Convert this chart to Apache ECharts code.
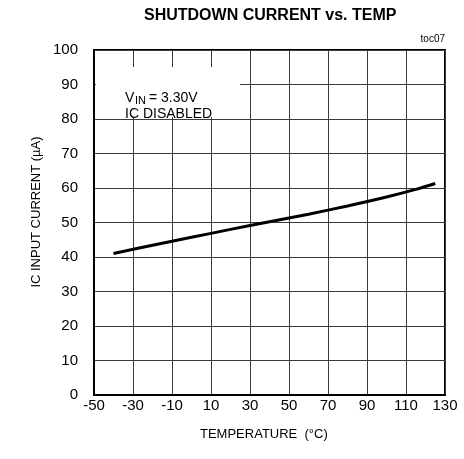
<!DOCTYPE html>
<html>
<head>
<meta charset="utf-8">
<script src="https://cdn.jsdelivr.net/npm/echarts@6/dist/echarts.min.js"></script>
<style>
html,body{margin:0;padding:0;background:#fff;}
#chart{width:464px;height:459px;}
</style>
</head>
<body>
<div id="chart"></div>
<script>
// Data
var temperatures = [-40, -20, 0, 20, 40, 60, 80, 100, 115, 125];
var inputCurrent = [41.0, 43.4, 45.7, 48.0, 50.2, 52.4, 54.8, 57.4, 59.6, 61.3];
var xTicks = { min: -50, max: 130, step: 20 };
var yTicks = { min: 0, max: 100, step: 10 };
var titleText = 'SHUTDOWN CURRENT vs. TEMP';
var xAxisTitle = 'TEMPERATURE  (°C)';
var yAxisTitle = 'IC INPUT CURRENT (µA)';

var FONT = '"Liberation Sans", Arial, sans-serif';
var points = temperatures.map(function (t, i) { return [t, inputCurrent[i]]; });

var chart = echarts.init(document.getElementById('chart'), null, { renderer: 'canvas' });
chart.setOption({
  backgroundColor: '#fff',
  animation: false,
  textStyle: { fontFamily: FONT },
  grid: { left: 94, right: 19, top: 50, bottom: 64, show: true, borderColor: '#000', borderWidth: 2, backgroundColor: 'transparent' },
  xAxis: {
    type: 'value', min: xTicks.min, max: xTicks.max, interval: xTicks.step,
    axisLine: { show: true, onZero: false, lineStyle: { color: '#000', width: 2 } },
    axisTick: { show: false },
    axisLabel: { color: '#000', fontSize: 15, fontFamily: FONT, margin: 3 },
    splitLine: { show: true, lineStyle: { color: '#3a3a3a', width: 1 } }
  },
  yAxis: {
    type: 'value', min: yTicks.min, max: yTicks.max, interval: yTicks.step,
    axisLine: { show: true, onZero: false, lineStyle: { color: '#000', width: 2 } },
    axisTick: { show: false },
    axisLabel: { color: '#000', fontSize: 15, fontFamily: FONT, margin: 16 },
    splitLine: { show: true, lineStyle: { color: '#3a3a3a', width: 1 } }
  },
  series: [{
    type: 'line', data: points, showSymbol: false, smooth: 0.3,
    lineStyle: { color: '#000', width: 3 }, z: 5
  }],
  graphic: [
    { type: 'text', left: 144, top: 8, z: 20, style: { text: titleText, font: 'bold 16px ' + FONT, fill: '#000' } },
    { type: 'text', right: 19, top: 34, z: 20, style: { text: 'toc07', font: '10px ' + FONT, fill: '#000' } },
    { type: 'text', left: 200, top: 428, z: 20, style: { text: xAxisTitle, font: '13px ' + FONT, fill: '#000' } },
    { type: 'text', x: 36, y: 212, rotation: Math.PI / 2, z: 20,
      style: { text: yAxisTitle, font: '13px ' + FONT, fill: '#000', align: 'center', verticalAlign: 'middle' } },
    { type: 'rect', shape: { x: 96, y: 67, width: 144, height: 50 }, style: { fill: '#fff' }, z: 10 },
    { type: 'text', x: 125, y: 91, z: 20, style: { text: 'V', font: '14px ' + FONT, fill: '#000', verticalAlign: 'alphabetic' } },
    { type: 'text', x: 135, y: 95, z: 20, style: { text: 'IN', font: '11px ' + FONT, fill: '#000', verticalAlign: 'alphabetic' } },
    { type: 'text', x: 149, y: 91, z: 20, style: { text: '= 3.30V', font: '14px ' + FONT, fill: '#000', verticalAlign: 'alphabetic' } },
    { type: 'text', x: 125, y: 107, z: 20, style: { text: 'IC DISABLED', font: '14px ' + FONT, fill: '#000', verticalAlign: 'alphabetic' } }
  ]
});
</script>
</body>
</html>
